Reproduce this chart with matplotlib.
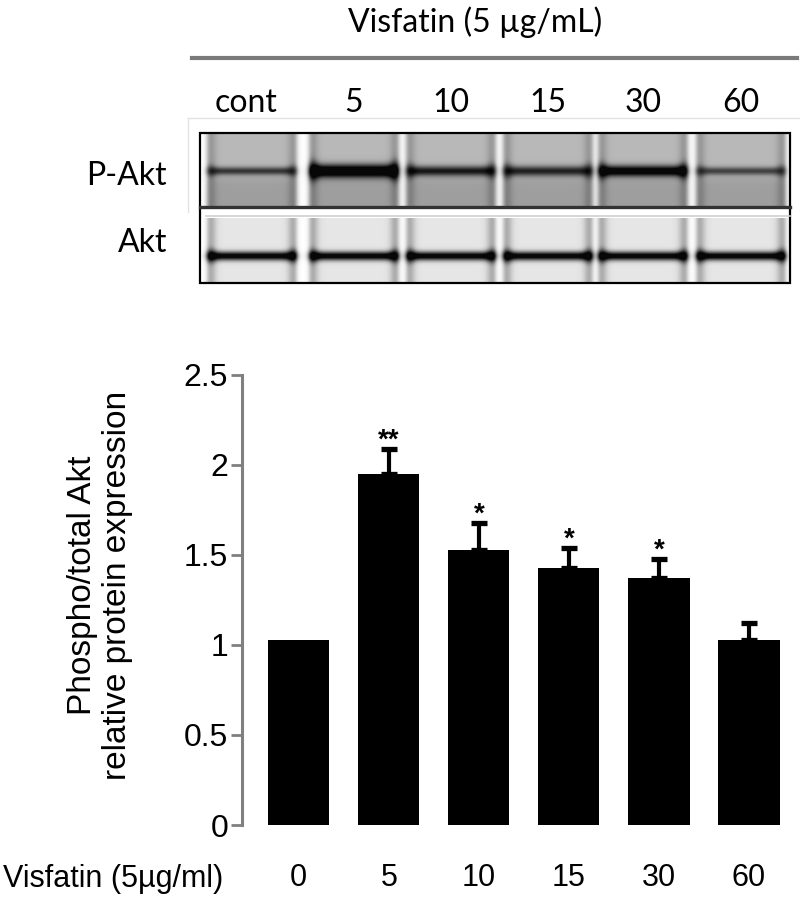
import numpy as np
import matplotlib
matplotlib.use('Agg')
import matplotlib.pyplot as plt
from matplotlib.patches import Rectangle

plt.rcParams['font.family'] = ['Liberation Sans', 'DejaVu Sans']

# bar chart data (relative P-Akt / Akt)
times = ['0', '5', '10', '15', '30', '60']
ratio = [1.03, 1.95, 1.53, 1.43, 1.37, 1.03]
sem = [0.0, 0.14, 0.15, 0.11, 0.11, 0.09]
stars = ['', '**', '*', '*', '*', '']

# blot panel (drawn, not a photo)
lanes = ['cont', '5', '10', '15', '30', '60']
pakt_band = [0.5, 0.95, 0.62, 0.58, 0.82, 0.45]
pakt_width = [4.0, 6.5, 5.0, 5.0, 5.5, 4.0]
akt_band = [0.95, 0.95, 0.95, 0.95, 0.95, 0.95]

lane_x = [252, 354, 451, 548, 643, 741]

fig = plt.figure(figsize=(8, 8.97), dpi=100)

# ---- bar chart ----
ax = fig.add_axes([242 / 800, 72 / 897, 552 / 800, 450 / 897])
x = np.arange(len(times))
ax.bar(x, ratio, width=0.68, color='black')
has = np.array([s > 0 for s in sem])
r = np.array(ratio)
e = np.array(sem)
ax.errorbar(x[has], r[has], yerr=[np.zeros(has.sum()), e[has]], fmt='none',
            ecolor='black', elinewidth=3, capsize=6, capthick=3.8)
for i in x:
    if stars[i]:
        ax.text(i, ratio[i] + sem[i] + 0.005, stars[i], ha='center', va='baseline',
                fontsize=20, fontweight='bold')

ax.set_xlim(-0.63, 5.5)
ax.set_ylim(0, 2.5)
ax.set_xticks(x)
ax.set_xticklabels(times)
ax.set_yticks([0, 0.5, 1, 1.5, 2, 2.5])
ax.set_yticklabels(['0', '0.5', '1', '1.5', '2', '2.5'])
for s in ['top', 'right', 'bottom']:
    ax.spines[s].set_visible(False)
ax.spines['left'].set_color('#808080')
ax.spines['left'].set_linewidth(2.2)
ax.tick_params(axis='y', color='#808080', width=2, length=8, pad=2, labelsize=23)
ax.tick_params(axis='x', length=0, pad=27, labelsize=22)

fig.text(100 / 800, 1 - 585 / 897, 'Phospho/total Akt\nrelative protein expression',
         rotation=90, ha='center', va='center', fontsize=24, linespacing=1.15)
fig.text(3 / 800, 1 - 879 / 897, 'Visfatin (5µg/ml)', ha='left', va='center',
         fontsize=22)

# ---- blot on a pixel overlay ----
ov = fig.add_axes([0, 0, 1, 1], facecolor='none')
ov.axis('off')


def blot(ytop, ybot, yc, amps, widths, bg, low, edge):
    xs = np.arange(201, 789) + 0.5
    ys = np.arange(ytop, ybot) + 0.5
    X, Y = np.meshgrid(xs, ys)
    D = np.zeros_like(X)
    for c, a, w in zip(lane_x, amps, widths):
        lo, hi = c - 45, c + 45
        m = 1 / (1 + np.exp(-(X - lo) / 1.5)) / (1 + np.exp(-(hi - X) / 1.5))
        sides = np.exp(-((X - lo - 3) / 6) ** 2) + np.exp(-((X - hi + 3) / 6) ** 2)
        weff = w * (1 + 0.35 * sides)
        band = a * np.exp(-((Y - yc) / weff) ** 2)
        D += m * (bg + low / (1 + np.exp(-(Y - yc - 6) / 3)) + edge * sides + band)
    return 1 - np.clip(D, 0, 0.97)


img1 = blot(134, 206, 171, pakt_band, pakt_width, 0.28, 0.1, 0.15)
img2 = blot(218, 282, 256, akt_band, [4.5] * 6, 0.1, 0.0, 0.25)
ov.imshow(img1, cmap='gray', vmin=0, vmax=1, extent=(201, 789, 206, 134),
          aspect='auto', interpolation='bilinear')
ov.imshow(img2, cmap='gray', vmin=0, vmax=1, extent=(201, 789, 282, 218),
          aspect='auto', interpolation='bilinear')
ov.set_xlim(0, 800)
ov.set_ylim(897, 0)

ov.plot([188, 800], [118, 118], color='#e2e2e2', lw=1)
ov.plot([188, 188], [118, 212], color='#e2e2e2', lw=1)
ov.add_patch(Rectangle((200, 133), 590, 150, fill=False, ec='black', lw=1.6))
ov.plot([200, 790], [207.5, 207.5], color='#333333', lw=2.4)
ov.plot([206, 790], [216, 216], color='#cfcfcf', lw=1.2)

ov.text(475, 22, 'Visfatin (5 µg/mL)', ha='center', va='center', fontsize=23,
        family=['Lato', 'DejaVu Sans'])
ov.plot([192, 797], [58, 58], color='#7a7a7a', lw=3)
for lx, lab in zip(lane_x, lanes):
    ov.text(lx - (6 if lab == 'cont' else 0), 112, lab, ha='center', va='baseline',
            fontsize=23, family=['Lato', 'DejaVu Sans'])
ov.text(167, 176, 'P-Akt', ha='right', va='center', fontsize=23,
        family=['Lato', 'DejaVu Sans'])
ov.text(167, 243, 'Akt', ha='right', va='center', fontsize=23,
        family=['Lato', 'DejaVu Sans'])

fig.savefig('out.png', dpi=100)
